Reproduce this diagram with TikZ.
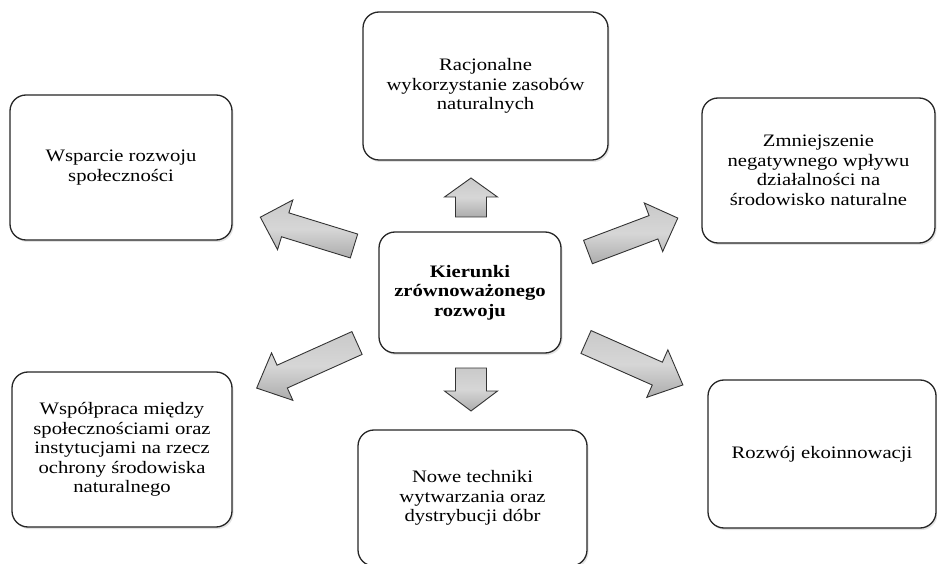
\documentclass[tikz,border=0pt]{standalone}
\usepackage{fontspec}
\setmainfont{Liberation Serif}
\newfontfamily\boxfont{Liberation Serif}[FakeStretch=1.18]
\usetikzlibrary{shadows}

\tikzset{
  box/.style={draw=black!85, line width=1.3pt, rounded corners=16pt, fill=white,
    align=center, inner sep=4pt,
    drop shadow={shadow xshift=1.5pt, shadow yshift=-2pt, opacity=0.22},
    font=\boxfont\fontsize{17.5}{19.5}\selectfont},
  hub/.style={box, font=\boxfont\bfseries\fontsize{17.5}{19.5}\selectfont},
  arrowbody/.style={draw=black!80, line width=0.9pt, line join=miter,
    top color=gray!42, bottom color=gray!65, middle color=gray!32},
  % block arrow: length, shaft width, head width, head length
  pics/blockarrow/.style args={#1,#2,#3,#4}{code={
    \draw[arrowbody] (0,-#2/2) -- ({#1-#4},-#2/2) -- ({#1-#4},-#3/2) -- (#1,0)
      -- ({#1-#4},#3/2) -- ({#1-#4},#2/2) -- (0,#2/2) -- cycle;
  }}
}

\begin{document}
\begin{tikzpicture}[x=1pt,y=1pt]
  \useasboundingbox (0,0) rectangle (937,563);
  \begin{scope}
    \clip (0,0) rectangle (937,563);

    % outer topics
    \node[box, minimum width=245pt, minimum height=148pt] (res) at (485.5,477)
      {Racjonalne\\wykorzystanie zasobów\\naturalnych};
    \node[box, minimum width=222pt, minimum height=145pt] (soc) at (121,395.5)
      {Wsparcie rozwoju\\społeczności};
    \node[box, minimum width=233pt, minimum height=145pt] (env) at (818.5,392.5)
      {Zmniejszenie\\negatywnego wpływu\\działalności na\\środowisko naturalne};
    \node[box, minimum width=220pt, minimum height=155pt] (coop) at (122,113.5)
      {Współpraca między\\społecznościami oraz\\instytucjami na rzecz\\ochrony środowiska\\naturalnego};
    \node[box, minimum width=229pt, minimum height=136pt] (tech) at (472.5,65)
      {Nowe techniki\\wytwarzania oraz\\dystrybucji dóbr};
    \node[box, minimum width=228pt, minimum height=148pt] (eco) at (822,109)
      {Rozwój ekoinnowacji};

    % central topic
    \node[hub, minimum width=182pt, minimum height=121pt] (hub) at (470,270.5)
      {Kierunki\\zrównoważonego\\rozwoju};

    % block arrows pointing from the hub to each topic
    \pic[rotate=90]    (aup) at (471,346) {blockarrow={39,31,53,19}};
    \pic[rotate=-90]   (adn) at (471,195) {blockarrow={43,31,53,20}};
    \pic[rotate=162.9] (aul) at (354,317) {blockarrow={98,25,52,26}};
    \pic[rotate=20.7]  (aur) at (588,311) {blockarrow={96,25,52,26}};
    \pic[rotate=204.2] (all) at (357,220) {blockarrow={110,25,52,28}};
    \pic[rotate=-23.9] (alr) at (586,221) {blockarrow={106,25,52,28}};
  \end{scope}
\end{tikzpicture}
\end{document}
